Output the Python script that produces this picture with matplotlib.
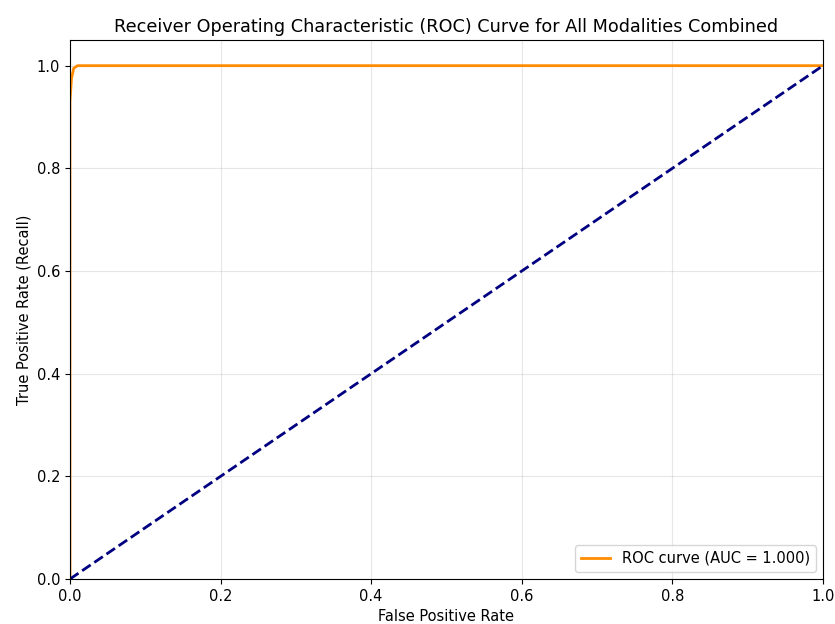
import matplotlib
matplotlib.use('Agg')
import matplotlib.pyplot as plt

plt.rcParams['font.size'] = 10.5

# ROC points
fpr = [0.0, 0.0, 0.0, 0.002, 0.005, 0.01, 1.0]
tpr = [0.0, 0.88, 0.93, 0.975, 0.995, 1.0, 1.0]
roc_auc = 1.000

diag = [0.0, 1.0]

fig = plt.figure(figsize=(8.35, 6.24), dpi=100)
ax = fig.add_axes([0.0838, 0.0721, 0.9018, 0.8638])

ax.plot(fpr, tpr, color='darkorange', lw=2, label='ROC curve (AUC = %0.3f)' % roc_auc)
ax.plot(diag, diag, color='navy', lw=2, linestyle='--')
ax.set_xlim(0.0, 1.0)
ax.set_ylim(0.0, 1.05)
ax.set_xlabel('False Positive Rate')
ax.set_ylabel('True Positive Rate (Recall)')
ax.set_title('Receiver Operating Characteristic (ROC) Curve for All Modalities Combined', fontsize=12.7)
ax.legend(loc='lower right')
ax.grid(alpha=0.3)

fig.savefig('out.png', dpi=100)
